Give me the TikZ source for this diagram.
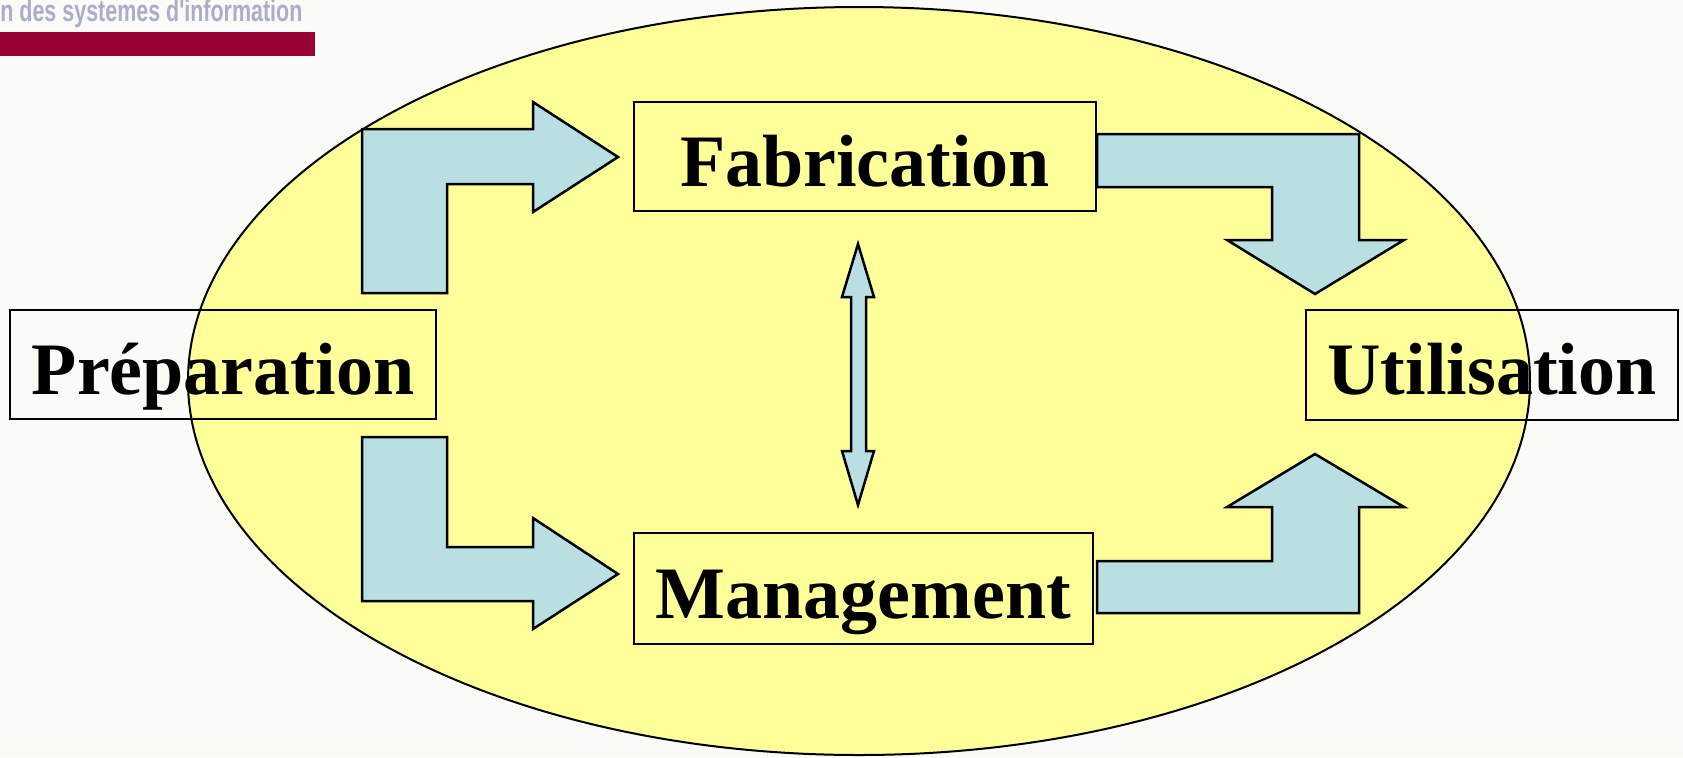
\documentclass[tikz,border=0pt]{standalone}
\usepackage{fontspec}
\usepackage{graphicx}
\setmainfont{Liberation Serif}
\newfontfamily\headerfont{Liberation Sans}
\usetikzlibrary{shapes.geometric}

\definecolor{paper}{RGB}{250,250,246}
\definecolor{cycleyellow}{RGB}{255,255,153}
\definecolor{flowblue}{RGB}{185,223,227}
\definecolor{headerlilac}{RGB}{172,172,204}
\definecolor{headerred}{RGB}{153,0,51}

\begin{document}
\begin{tikzpicture}[
    x=0.5pt, y=-0.5pt,
    stage/.style={rectangle, draw, line width=0.75pt, inner sep=0pt,
        text height=29.5pt, text depth=0pt,
        text centered, font=\bfseries\fontsize{37}{44}\selectfont},
    flow/.style={draw, line width=1.25pt, fill=flowblue, line join=miter},
    cycle/.style={ellipse, draw, line width=1pt, fill=cycleyellow, inner sep=0pt}
]
\useasboundingbox [fill=paper] (0,0) rectangle (1683,757);

\node (Header) [anchor=base west, inner sep=0pt, text=headerlilac,
    font=\headerfont\bfseries\fontsize{14.5}{16}\selectfont] at (0,21)
    {\scalebox{0.74}[1.05]{n des systemes d'information}};
\fill [headerred] (0,32) rectangle (315,56);

\node (Cycle) [cycle, minimum width=671pt, minimum height=374pt] at (859,381) {};

\node (Fabrication) [stage, minimum width=231pt, minimum height=54.5pt] at (865,156.5) {Fabrication};
\node (Management) [stage, minimum width=229.5pt, minimum height=55.5pt] at (863.5,588.5) {Management};
\node (Preparation) [stage, minimum width=213pt, minimum height=54.5pt] at (223,364.5) {Préparation};
\node (Utilisation) [stage, minimum width=186pt, minimum height=55pt] at (1492,365) {Utilisation};

\draw [flow] (362,129) -- (533,129) -- (533,102) -- (618,157) -- (533,212) -- (533,184)
    -- (447,184) -- (447,293) -- (362,293) -- cycle;
\draw [flow] (362,437) -- (447,437) -- (447,547) -- (533,547) -- (533,518) -- (618,574)
    -- (533,629) -- (533,601) -- (362,601) -- cycle;
\draw [flow] (1097,134) -- (1359,134) -- (1359,240) -- (1404,240) -- (1315,294)
    -- (1227,240) -- (1272,240) -- (1272,187) -- (1097,187) -- cycle;
\draw [flow] (1097,613) -- (1359,613) -- (1359,507) -- (1404,507) -- (1315,454)
    -- (1227,507) -- (1272,507) -- (1272,561) -- (1097,561) -- cycle;
\draw [flow] (858,244) -- (874,297) -- (866,297) -- (866,451) -- (874,451) -- (858,505)
    -- (842,451) -- (851,451) -- (851,297) -- (842,297) -- cycle;

\end{tikzpicture}
\end{document}
